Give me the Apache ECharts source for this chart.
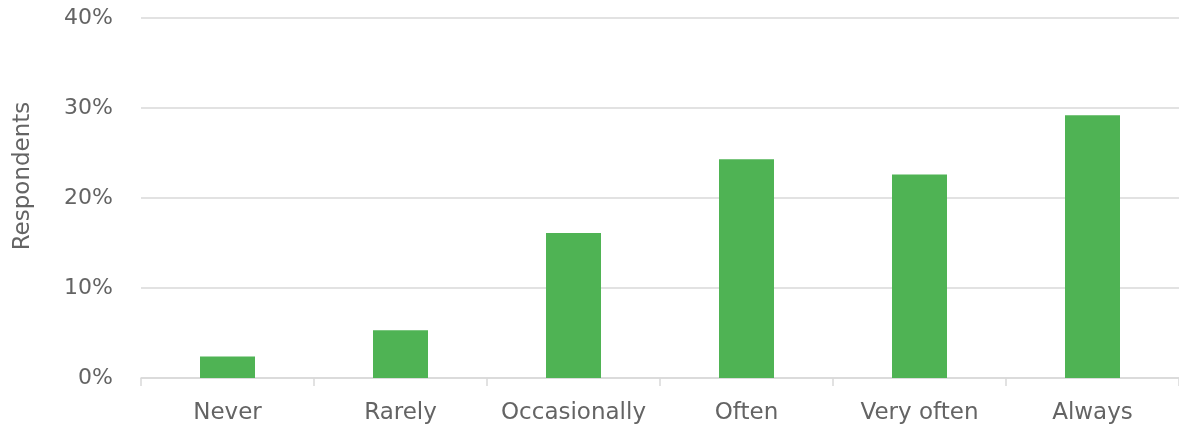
<!DOCTYPE html>
<html>
<head>
<meta charset="utf-8">
<script src="https://cdn.jsdelivr.net/npm/echarts@6/dist/echarts.min.js"></script>
</head>
<body style="margin:0">
<div id="chart" style="width:1179px;height:429px"></div>
<script>
var categories = ['Never', 'Rarely', 'Occasionally', 'Often', 'Very often', 'Always'];
var respondents = [2.4, 5.3, 16.1, 24.3, 22.6, 29.2];
var yTicks = [0, 10, 20, 30, 40];

var chart = echarts.init(document.getElementById('chart'));
var textColor = '#646464';
var fontFam = '"DejaVu Sans", sans-serif';

chart.setOption({
  animation: false,
  grid: { left: 141, width: 1043, top: 18, bottom: 51 },
  xAxis: {
    type: 'category',
    data: categories,
    axisLine: { lineStyle: { color: '#d9d9d9', width: 1.5 } },
    axisTick: { show: true, interval: 0, length: 8, lineStyle: { color: '#d9d9d9', width: 1.5 } },
    axisLabel: { interval: 0, color: textColor, fontSize: 23, fontFamily: fontFam, margin: 24 }
  },
  yAxis: {
    type: 'value',
    min: yTicks[0],
    max: yTicks[yTicks.length - 1],
    interval: 10,
    name: 'Respondents',
    nameLocation: 'middle',
    nameGap: 106,
    nameTextStyle: { color: textColor, fontSize: 23, fontFamily: fontFam, padding: [0, 0, 0, 44] },
    axisLine: { show: false },
    axisTick: { show: false },
    axisLabel: { color: textColor, fontSize: 22, fontFamily: fontFam, margin: 28,
      formatter: function (v) { return v + '%'; } },
    splitLine: { lineStyle: { color: '#d9d9d9', width: 1.5 } }
  },
  series: [{
    type: 'bar',
    data: respondents,
    barWidth: 55,
    itemStyle: { color: '#4fb354' }
  }]
});
</script>
</body>
</html>
